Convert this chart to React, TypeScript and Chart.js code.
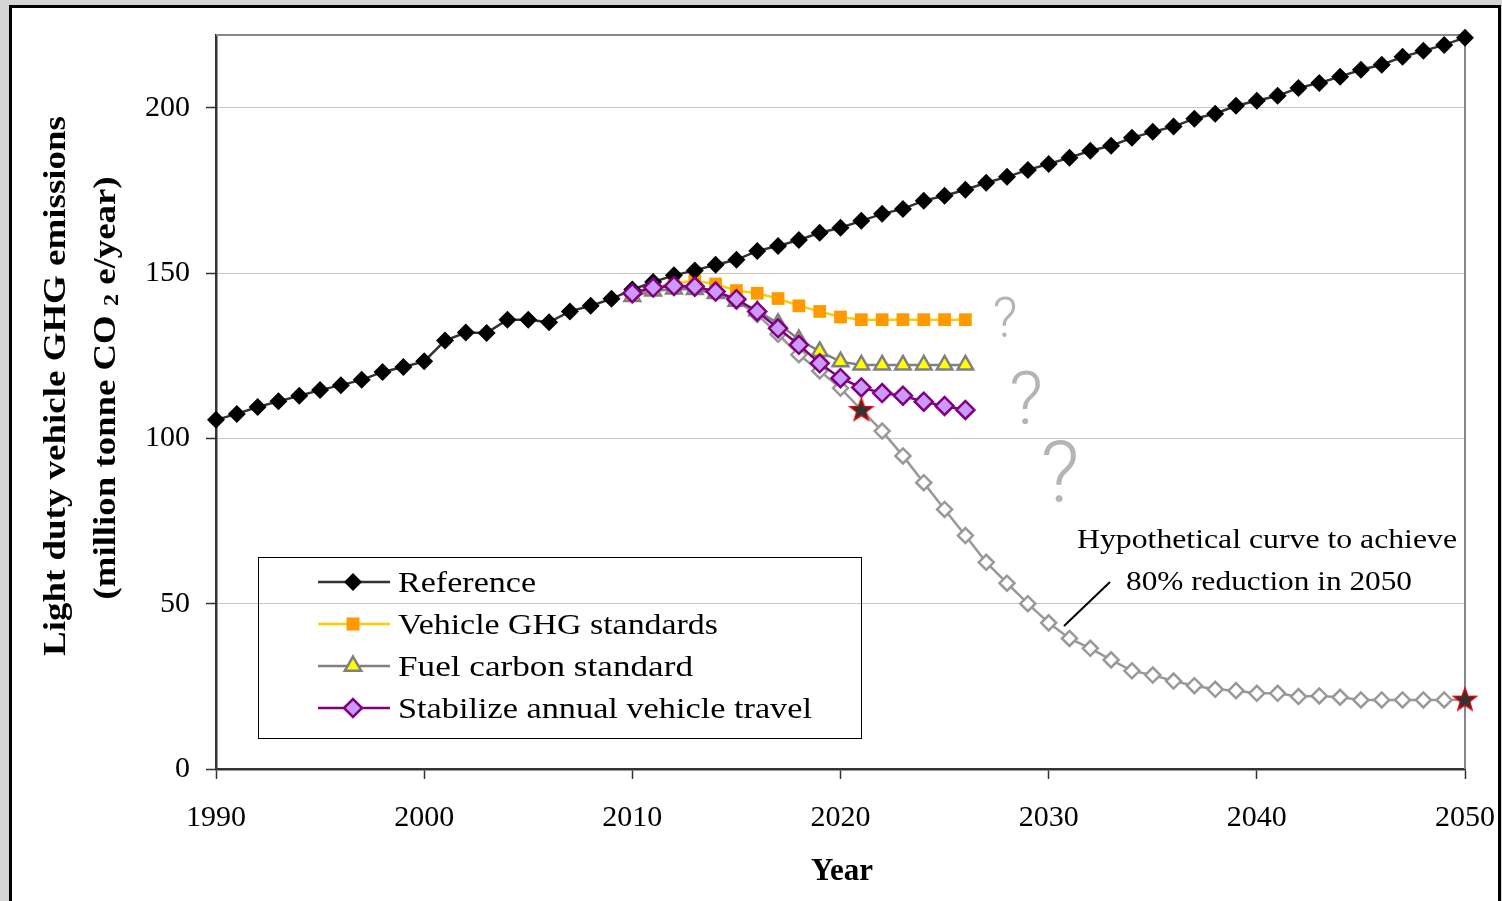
import React, { useEffect, useRef } from 'react';
import { Chart, registerables } from 'chart.js';

Chart.register(...registerables);

const range = (a: number, b: number) => { const r: number[] = []; for (let i = a; i <= b; i++) r.push(i); return r; };

const referenceYears = range(1990, 2050);
const referenceValues = [
  105.6, 107.4, 109.5, 111.2, 112.9, 114.6, 116.1, 117.7, 120.1, 121.6,
  123.3, 129.6, 132.0, 131.9, 135.9, 135.9, 135.1, 138.4, 140.1, 142.2,
  145.0, 147.3, 149.3, 150.8, 152.5, 154.0, 156.7, 158.2, 160.0, 162.2,
  163.7, 165.8, 167.9, 169.4, 171.9, 173.4, 175.2, 177.3, 179.1, 181.2,
  183.0, 184.9, 187.0, 188.5, 190.9, 192.7, 194.3, 196.7, 198.2, 200.6,
  202.1, 203.6, 206.0, 207.5, 209.4, 211.5, 213.0, 215.4, 217.2, 219.0,
  221.2,
];

const scenarioYears = range(2010, 2026);
const vehicleGhgValues = [143.8, 145.6, 147.0, 147.7, 146.7, 144.7, 143.9, 142.3, 140.1, 138.4, 136.7, 135.9, 135.9, 135.9, 135.9, 135.9, 135.9];
const fuelCarbonValues = [142.9, 144.6, 145.2, 145.0, 143.8, 141.5, 138.6, 134.8, 129.9, 126.3, 123.2, 122.2, 122.2, 122.2, 122.2, 122.2, 122.2];
const stabilizeTravelValues = [143.9, 145.6, 146.1, 145.9, 144.4, 142.1, 138.4, 133.3, 128.3, 122.7, 118.2, 115.4, 113.7, 112.9, 111.1, 109.8, 108.6];

const hypotheticalYears = range(2010, 2050);
const hypotheticalValues = [
  143.5, 145.5, 146.0, 145.5, 144.0, 141.5, 137.5, 131.5, 125.3, 120.4,
  115.2, 108.6, 102.2, 94.7, 86.6, 78.5, 70.6, 62.5, 56.2, 50.0,
  44.2, 39.5, 36.5, 33.0, 29.7, 28.4, 26.6, 25.2, 24.1, 23.7,
  22.9, 22.9, 21.9, 22.1, 21.7, 20.9, 20.9, 20.9, 20.9, 20.9,
  21.0,
];

const starYears = [2021, 2050];
const starValues = [108.6, 21.0];

const xTicks = [1990, 2000, 2010, 2020, 2030, 2040, 2050];
const yTicks = [0, 50, 100, 150, 200];

const legendLabels = ['Reference', 'Vehicle GHG standards', 'Fuel carbon standard', 'Stabilize annual vehicle travel'];
const yTitleLine1 = 'Light duty vehicle GHG emissions';
const yTitleLine2 = ['(million tonne CO', '2', ' e/year)'];
const xTitle = 'Year';
const annotationLines = ['Hypothetical curve to achieve', '80% reduction in 2050'];

const pts = (xs: number[], ys: number[]) => xs.map((x, i) => ({ x, y: ys[i] }));

const SERIF = '"Liberation Serif", "Times New Roman", serif';
const QFONT = 'Roboto, "Open Sans", "Liberation Sans", Arial, sans-serif';

function makeStar(): HTMLCanvasElement {
  const c = document.createElement('canvas');
  c.width = 28; c.height = 28;
  const g = c.getContext('2d')!;
  const cx = 14, cy = 14.5, R = 12.5, r = 5.2;
  g.beginPath();
  for (let i = 0; i < 10; i++) {
    const a = -Math.PI / 2 + (i * Math.PI) / 5;
    const rr = i % 2 === 0 ? R : r;
    const px = cx + rr * Math.cos(a), py = cy + rr * Math.sin(a);
    if (i === 0) g.moveTo(px, py); else g.lineTo(px, py);
  }
  g.closePath();
  g.fillStyle = '#333333';
  g.fill();
  g.lineWidth = 1.2;
  g.strokeStyle = '#ff0000';
  g.stroke();
  return c;
}

function fitText(ctx: CanvasRenderingContext2D, text: string, x: number, y: number, w: number, align: CanvasTextAlign) {
  const m = ctx.measureText(text).width;
  const s = w / m;
  ctx.save();
  ctx.translate(x, y);
  ctx.scale(s, 1);
  ctx.textAlign = align;
  ctx.fillText(text, 0, 0);
  ctx.restore();
}

function drawMarker(ctx: CanvasRenderingContext2D, kind: string, x: number, y: number, r: number, fill: string, stroke: string, lw: number) {
  ctx.save();
  ctx.beginPath();
  if (kind === 'diamond') {
    ctx.moveTo(x - r, y); ctx.lineTo(x, y - r); ctx.lineTo(x + r, y); ctx.lineTo(x, y + r); ctx.closePath();
  } else if (kind === 'square') {
    ctx.rect(x - r, y - r, 2 * r, 2 * r);
  } else if (kind === 'triangle') {
    ctx.moveTo(x, y - r); ctx.lineTo(x + r * 0.866, y + r * 0.5); ctx.lineTo(x - r * 0.866, y + r * 0.5); ctx.closePath();
  }
  ctx.fillStyle = fill; ctx.fill();
  if (lw > 0) { ctx.lineWidth = lw; ctx.strokeStyle = stroke; ctx.stroke(); }
  ctx.restore();
}

const framePlugin = {
  id: 'frame',
  beforeDraw(chart: any) {
    const ctx = chart.ctx as CanvasRenderingContext2D;
    ctx.save();
    ctx.fillStyle = '#d4d4d4';
    ctx.fillRect(0, 0, chart.width, chart.height);
    ctx.fillStyle = '#ffffff';
    ctx.fillRect(10, 6, 1490, chart.height);
    ctx.strokeStyle = '#000000';
    ctx.lineWidth = 3;
    ctx.beginPath();
    ctx.moveTo(10.5, chart.height + 5);
    ctx.lineTo(10.5, 6.5);
    ctx.lineTo(1499.5, 6.5);
    ctx.lineTo(1499.5, chart.height + 5);
    ctx.stroke();
    ctx.restore();
  },
  beforeDatasetsDraw(chart: any) {
    const ctx = chart.ctx as CanvasRenderingContext2D;
    const a = chart.chartArea;
    ctx.save();
    ctx.strokeStyle = '#868686';
    ctx.lineWidth = 2;
    ctx.beginPath();
    ctx.moveTo(a.left, a.top);
    ctx.lineTo(a.right, a.top);
    ctx.lineTo(a.right, a.bottom);
    ctx.stroke();
    ctx.restore();
  },
  afterDraw(chart: any) {
    const ctx = chart.ctx as CanvasRenderingContext2D;
    ctx.save();
    ctx.fillStyle = '#000';
    ctx.textBaseline = 'middle';

    // Y axis title
    ctx.font = `bold 32px ${SERIF}`;
    ctx.save();
    ctx.translate(57, 386);
    ctx.rotate(-Math.PI / 2);
    fitText(ctx, yTitleLine1, 0, 0, 540, 'center');
    ctx.restore();

    ctx.save();
    ctx.translate(107, 388);
    ctx.rotate(-Math.PI / 2);
    ctx.font = `bold 32px ${SERIF}`;
    const w1 = ctx.measureText(yTitleLine2[0] + ' ').width;
    const w3 = ctx.measureText(' ' + yTitleLine2[2].trim()).width;
    ctx.font = `bold 21px ${SERIF}`;
    const w2 = ctx.measureText(yTitleLine2[1]).width;
    const total = w1 + w2 + w3;
    const s = 423 / total;
    ctx.scale(s, 1);
    ctx.textAlign = 'left';
    let cx = -total / 2;
    ctx.font = `bold 32px ${SERIF}`;
    ctx.fillText(yTitleLine2[0] + ' ', cx, 0);
    cx += w1;
    ctx.font = `bold 21px ${SERIF}`;
    ctx.fillText(yTitleLine2[1], cx, 6);
    cx += w2;
    ctx.font = `bold 32px ${SERIF}`;
    ctx.fillText(' ' + yTitleLine2[2].trim(), cx, 0);
    ctx.restore();

    // X axis title
    ctx.font = `bold 31px ${SERIF}`;
    ctx.textAlign = 'center';
    ctx.fillText(xTitle, 842, 872);

    // Legend
    ctx.lineWidth = 1;
    ctx.strokeStyle = '#000';
    ctx.strokeRect(258.5, 557.5, 603, 181);
    const rows = [582, 624, 666, 708];
    const legendStyles = [
      { line: '#333333', kind: 'diamond', r: 9, fill: '#000000', stroke: '#000000', lw: 0 },
      { line: '#ffcc00', kind: 'square', r: 6.5, fill: '#ff9900', stroke: '#ff9900', lw: 0 },
      { line: '#808080', kind: 'triangle', r: 9.5, fill: '#ffff00', stroke: '#808080', lw: 2.5 },
      { line: '#800080', kind: 'diamond', r: 9, fill: '#cc99ff', stroke: '#800080', lw: 2.5 },
    ];
    const legendWidths = [138, 320, 295, 414];
    ctx.font = `30px ${SERIF}`;
    rows.forEach((ry, i) => {
      const st = legendStyles[i];
      ctx.save();
      ctx.strokeStyle = st.line;
      ctx.lineWidth = 2.5;
      ctx.beginPath();
      ctx.moveTo(318, ry);
      ctx.lineTo(390, ry);
      ctx.stroke();
      ctx.restore();
      drawMarker(ctx, st.kind, 353, ry, st.r, st.fill, st.stroke, st.lw);
      ctx.fillStyle = '#000';
      fitText(ctx, legendLabels[i], 398, ry + 2, legendWidths[i], 'left');
    });

    // Annotation
    ctx.font = `28px ${SERIF}`;
    fitText(ctx, annotationLines[0], 1267, 541, 380, 'center');
    fitText(ctx, annotationLines[1], 1269, 583, 286, 'center');
    ctx.strokeStyle = '#000';
    ctx.lineWidth = 2;
    ctx.beginPath();
    ctx.moveTo(1110, 582);
    ctx.lineTo(1064, 626);
    ctx.stroke();

    // Question marks
    ctx.fillStyle = '#b4b4b4';
    ctx.textBaseline = 'alphabetic';
    ctx.textAlign = 'center';
    ctx.font = `300 55px ${QFONT}`;
    ctx.fillText('?', 1005, 337);
    ctx.font = `300 75px ${QFONT}`;
    ctx.fillText('?', 1026, 424);
    ctx.font = `300 86px ${QFONT}`;
    ctx.fillText('?', 1060, 502);
    ctx.restore();
  },
};

export default function App() {
  const ref = useRef<HTMLCanvasElement | null>(null);
  useEffect(() => {
    if (!ref.current) return;
    const star = makeStar();
    const chart = new Chart(ref.current, {
      type: 'line',
      data: {
        datasets: [
          {
            label: 'Stars',
            data: pts(starYears, starValues),
            showLine: false,
            pointStyle: star as any,
            pointRadius: 12,
            order: 0,
            clip: false as any,
          },
          {
            label: legendLabels[3],
            data: pts(scenarioYears, stabilizeTravelValues),
            borderColor: '#800080',
            borderWidth: 2.5,
            pointStyle: 'rectRot',
            pointRadius: 9,
            pointBackgroundColor: '#cc99ff',
            pointBorderColor: '#800080',
            pointBorderWidth: 2.5,
            order: 1,
            clip: false as any,
          },
          {
            label: legendLabels[0],
            data: pts(referenceYears, referenceValues),
            borderColor: '#333333',
            borderWidth: 2.5,
            pointStyle: 'rectRot',
            pointRadius: 9,
            pointBackgroundColor: '#000000',
            pointBorderColor: '#000000',
            pointBorderWidth: 0,
            order: 2,
            clip: false as any,
          },
          {
            label: legendLabels[1],
            data: pts(scenarioYears, vehicleGhgValues),
            borderColor: '#ffcc00',
            borderWidth: 2.5,
            pointStyle: 'rect',
            pointRadius: 9,
            pointBackgroundColor: '#ff9900',
            pointBorderColor: '#ff9900',
            pointBorderWidth: 0,
            order: 3,
            clip: false as any,
          },
          {
            label: legendLabels[2],
            data: pts(scenarioYears, fuelCarbonValues),
            borderColor: '#808080',
            borderWidth: 2.5,
            pointStyle: 'triangle',
            pointRadius: 9,
            pointBackgroundColor: '#ffff00',
            pointBorderColor: '#808080',
            pointBorderWidth: 2.5,
            order: 4,
            clip: false as any,
          },
          {
            label: 'Hypothetical',
            data: pts(hypotheticalYears, hypotheticalValues),
            borderColor: '#999999',
            borderWidth: 2.5,
            pointStyle: 'rectRot',
            pointRadius: (c: any) => (starYears.includes(c.raw?.x) ? 0 : 7.5),
            pointBackgroundColor: '#ffffff',
            pointBorderColor: '#999999',
            pointBorderWidth: 2.5,
            order: 5,
            clip: false as any,
          },
        ],
      },
      options: {
        animation: false,
        responsive: false,
        devicePixelRatio: 1,
        layout: { padding: { left: 0, top: 35, right: 37, bottom: 0 } },
        plugins: { legend: { display: false }, tooltip: { enabled: false }, title: { display: false } },
        elements: { line: { tension: 0 } },
        scales: {
          x: {
            type: 'linear',
            min: xTicks[0],
            max: xTicks[xTicks.length - 1],
            afterBuildTicks: (s: any) => { s.ticks = xTicks.map((v) => ({ value: v })); },
            afterFit: (s: any) => { s.height = 132; s.paddingLeft = 0; s.paddingRight = 0; },
            ticks: {
              color: '#000',
              font: { family: SERIF, size: 30 },
              padding: 21,
              maxRotation: 0,
              autoSkip: false,
              callback: (v: any) => String(v),
            },
            grid: { drawOnChartArea: false, drawTicks: true, tickLength: 10, tickColor: '#333333', tickWidth: 1.5 },
            border: { display: true, color: '#333333', width: 2.5 },
          },
          y: {
            type: 'linear',
            min: 0,
            max: 222,
            afterBuildTicks: (s: any) => { s.ticks = yTicks.map((v) => ({ value: v })); },
            afterFit: (s: any) => { s.width = 216; s.paddingTop = 0; s.paddingBottom = 0; },
            ticks: {
              color: '#000',
              font: { family: SERIF, size: 30 },
              padding: 16,
              callback: (v: any) => String(v),
            },
            grid: { color: '#c4c4c4', lineWidth: 1, drawTicks: true, tickLength: 10, tickColor: '#333333', tickWidth: 1.5 },
            border: { display: true, color: '#333333', width: 2.5 },
          },
        },
      },
      plugins: [framePlugin],
    } as any);
    return () => chart.destroy();
  }, []);
  return (
    <div style={{ position: 'fixed', left: 0, top: 0, width: 1502, height: 901 }}>
      <canvas ref={ref} width={1502} height={901} style={{ width: 1502, height: 901, display: 'block' }} />
    </div>
  );
}
